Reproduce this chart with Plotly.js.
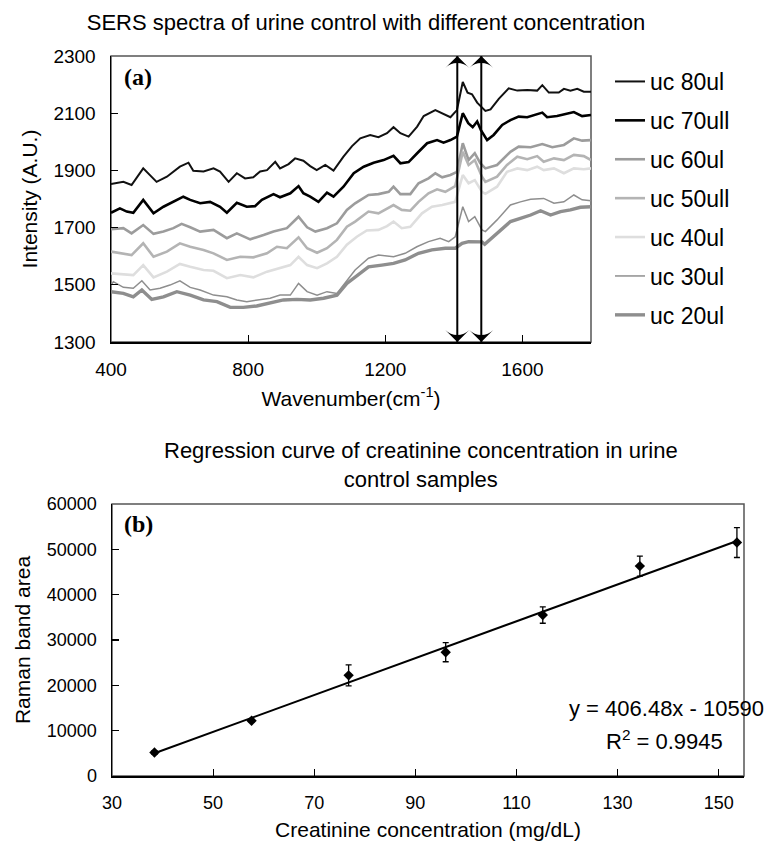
<!DOCTYPE html>
<html>
<head>
<meta charset="utf-8">
<script src="https://cdn.plot.ly/plotly-3.0.1.min.js"></script>
<style>html,body{margin:0;padding:0;background:#fff;}#chart{width:768px;height:846px;}</style>
</head>
<body>
<div id="chart"></div>
<script>
// ---------- Panel (a): SERS spectra ----------
const seriesNames = ['uc 80ul', 'uc 70ull', 'uc 60ul', 'uc 50ull', 'uc 40ul', 'uc 30ul', 'uc 20ul'];

const wn80 = [400,436,460,494,533,563,601,626,640,670,699,718,743,767,791,815,835,855,879,893,918,937,961,981,1000,1025,1049,1078,1103,1127,1156,1180,1205,1224,1244,1268,1293,1312,1346,1366,1390,1409,1426,1440,1453,1468,1477,1492,1507,1531,1560,1585,1614,1643,1658,1677,1706,1721,1740,1760,1779,1800];
const int80 = [1852,1860,1849,1907,1860,1878,1913,1927,1899,1896,1907,1896,1860,1890,1872,1876,1896,1901,1930,1907,1922,1942,1934,1915,1901,1919,1899,1948,1985,2012,2024,2016,2030,2051,2030,2018,2053,2090,2111,2100,2086,2111,2209,2172,2166,2137,2125,2108,2113,2150,2187,2179,2181,2179,2198,2172,2172,2185,2179,2185,2175,2175];

const wn70 = [400,426,446,465,494,524,553,582,611,631,660,689,718,738,767,796,820,840,874,893,923,947,961,981,1005,1030,1049,1078,1108,1137,1166,1195,1224,1244,1268,1293,1322,1351,1370,1390,1409,1426,1442,1455,1468,1479,1497,1516,1541,1565,1589,1614,1633,1658,1672,1701,1726,1750,1774,1800];
const int70 = [1752,1767,1756,1752,1797,1750,1773,1790,1808,1797,1785,1790,1773,1752,1787,1773,1775,1797,1817,1806,1820,1845,1820,1808,1790,1822,1808,1843,1890,1913,1927,1936,1951,1925,1929,1960,1995,2006,1997,2006,2018,2100,2065,2051,2071,2041,2006,2024,2059,2076,2088,2086,2094,2102,2086,2090,2097,2104,2090,2094];

const wn60 = [400,436,460,494,524,553,582,606,631,660,699,738,767,806,845,874,913,947,972,996,1030,1059,1088,1112,1151,1180,1210,1224,1244,1273,1297,1326,1346,1366,1390,1409,1426,1443,1461,1477,1492,1526,1565,1589,1624,1658,1687,1721,1750,1774,1800];
const int60 = [1694,1698,1680,1709,1678,1686,1698,1713,1701,1686,1692,1663,1680,1659,1674,1686,1698,1738,1701,1686,1698,1715,1762,1785,1814,1817,1825,1843,1817,1817,1855,1872,1890,1876,1884,1895,1995,1936,1960,1925,1907,1919,1965,1983,1981,1992,1981,1989,2012,2004,2006];

const wn50 = [400,436,460,494,524,563,601,631,670,699,738,777,815,855,884,913,947,972,1001,1030,1059,1088,1112,1151,1180,1224,1248,1273,1297,1326,1351,1375,1404,1426,1443,1461,1482,1492,1526,1555,1585,1614,1643,1662,1692,1721,1750,1779,1800];
const int50 = [1616,1610,1604,1645,1598,1616,1645,1633,1622,1610,1587,1598,1596,1610,1633,1628,1666,1628,1612,1628,1657,1703,1721,1756,1750,1779,1762,1759,1790,1820,1834,1825,1845,1965,1919,1936,1878,1860,1878,1919,1948,1939,1950,1930,1942,1936,1954,1950,1936];

const wn40 = [400,436,465,494,524,563,601,631,670,699,738,777,815,855,893,923,947,972,1001,1030,1059,1088,1117,1146,1180,1205,1224,1248,1273,1307,1336,1366,1404,1426,1443,1461,1482,1492,1526,1555,1585,1614,1643,1662,1692,1721,1750,1779,1800];
const int40 = [1540,1538,1534,1569,1526,1546,1573,1563,1552,1549,1523,1534,1526,1546,1558,1569,1598,1569,1558,1575,1598,1640,1668,1690,1692,1705,1721,1698,1703,1750,1773,1779,1790,1884,1855,1866,1825,1818,1843,1895,1907,1901,1913,1901,1907,1890,1907,1904,1907];

const wn30 = [400,407,436,465,490,514,543,572,601,631,660,699,738,767,796,835,864,893,923,947,972,1001,1030,1059,1088,1112,1151,1180,1224,1258,1292,1326,1360,1385,1404,1426,1443,1461,1482,1492,1526,1565,1594,1624,1662,1692,1721,1750,1774,1800];
const int30 = [1499,1511,1491,1488,1514,1482,1488,1499,1514,1491,1482,1464,1458,1447,1441,1447,1453,1464,1464,1505,1476,1464,1476,1470,1517,1552,1593,1604,1598,1610,1633,1651,1663,1651,1668,1773,1721,1738,1692,1686,1727,1779,1790,1799,1802,1785,1790,1814,1797,1794];

const wn20 = [400,436,465,490,519,553,592,631,670,709,748,786,825,864,903,942,981,1020,1059,1088,1112,1151,1190,1224,1258,1297,1336,1375,1404,1424,1443,1463,1482,1490,1526,1565,1594,1624,1653,1682,1711,1740,1769,1800];
const int20 = [1476,1470,1458,1482,1449,1458,1476,1464,1447,1441,1421,1421,1426,1435,1447,1449,1447,1453,1464,1505,1528,1563,1569,1575,1587,1610,1622,1628,1628,1645,1651,1651,1650,1642,1680,1721,1732,1744,1759,1744,1756,1762,1771,1773];

const bandPositions = [1410, 1480];        // marked Raman bands (double arrows)
const arrowSpan = [1300, 2300];             // arrows run across the full intensity range
const spectraTicksX = [400, 800, 1200, 1600];

// ---------- Panel (b): regression ----------
const concentration = [38.4, 57.6, 76.8, 96.0, 115.2, 134.4, 153.6];
const bandArea      = [5200, 12200, 22200, 27300, 35500, 46300, 51500];
const bandAreaErr   = [400, 300, 2300, 2100, 1800, 2200, 3300];
const fitX = [38.4, 153.6];
const fitY = [5020, 51850];
const regressionTicksX = [30, 50, 70, 90, 110, 130, 150];

const FONT = 'Liberation Sans, Arial, Helvetica, sans-serif';

const styles = [
  {color: '#111111', width: 2},
  {color: '#000000', width: 2.6},
  {color: '#9c9c9c', width: 2.6},
  {color: '#b4b4b4', width: 2.6},
  {color: '#dedede', width: 2.6},
  {color: '#8e8e8e', width: 1.5},
  {color: '#8e8e8e', width: 3.4}
];
const xs = [wn80, wn70, wn60, wn50, wn40, wn30, wn20];
const ys = [int80, int70, int60, int50, int40, int30, int20];

const traces = [];
for (let i = 0; i < seriesNames.length; i++) {
  traces.push({
    type: 'scatter', mode: 'lines', name: seriesNames[i],
    x: xs[i], y: ys[i], xaxis: 'x', yaxis: 'y',
    legendgroup: 'g' + i,
    line: {color: styles[i].color, width: styles[i].width},
    hoverinfo: 'skip'
  });
}
bandPositions.forEach(b => {
  traces.push({
    type: 'scatter', mode: 'lines+markers', x: [b, b], y: arrowSpan, xaxis: 'x', yaxis: 'y',
    line: {color: '#000', width: 2},
    marker: {symbol: 'arrow-wide', size: 17, color: '#000', angle: [180, 0], line: {width: 0}},
    showlegend: false, hoverinfo: 'skip', cliponaxis: false
  });
});
traces.push({
  type: 'scatter', mode: 'lines', x: fitX, y: fitY, xaxis: 'x2', yaxis: 'y2',
  line: {color: '#000', width: 2}, showlegend: false, hoverinfo: 'skip'
});
traces.push({
  type: 'scatter', mode: 'markers', x: concentration, y: bandArea, xaxis: 'x2', yaxis: 'y2',
  marker: {symbol: 'diamond', size: 8, color: '#000'},
  error_y: {type: 'data', array: bandAreaErr, visible: true, color: '#000', thickness: 1.3, width: 3},
  showlegend: false, hoverinfo: 'skip'
});

const W = 768, H = 846;
const px = v => v / W, py = v => 1 - v / H;

const axisCommon = {
  showline: true, linecolor: '#000', linewidth: 1.5, ticks: 'inside', ticklen: 7,
  tickcolor: '#000', tickwidth: 1.2, showgrid: false, zeroline: false,
  tickfont: {family: FONT, size: 19, color: '#000'}, exponentformat: 'none', tickformat: 'd',
  separatethousands: false, ticklabelstandoff: 10, fixedrange: true
};

const annotations = [
  {x: px(122), y: py(77), xref: 'paper', yref: 'paper', xanchor: 'left', yanchor: 'middle',
   text: '<b>(a)</b>', showarrow: false, font: {family: 'Liberation Serif, Times New Roman, serif', size: 24, color: '#000'}},
  {x: px(122), y: py(524), xref: 'paper', yref: 'paper', xanchor: 'left', yanchor: 'middle',
   text: '<b>(b)</b>', showarrow: false, font: {family: 'Liberation Serif, Times New Roman, serif', size: 24, color: '#000'}},
  {x: px(421), y: py(465), xref: 'paper', yref: 'paper', xanchor: 'center', yanchor: 'middle',
   text: 'Regression curve of creatinine concentration in urine<br>control samples', showarrow: false,
   font: {family: FONT, size: 22, color: '#000'}},
  {x: px(666), y: py(708), xref: 'paper', yref: 'paper', xanchor: 'center', yanchor: 'middle',
   text: 'y = 406.48x - 10590', showarrow: false, font: {family: FONT, size: 22, color: '#000'}},
  {x: px(664), y: py(740), xref: 'paper', yref: 'paper', xanchor: 'center', yanchor: 'middle',
   text: 'R<sup>2</sup> = 0.9945', showarrow: false, font: {family: FONT, size: 22, color: '#000'}}
];

const shapes = [
  {type: 'rect', xref: 'x domain', yref: 'y domain', x0: 0, x1: 1, y0: 0, y1: 1, line: {color: '#555', width: 1.5}, layer: 'below'},
  {type: 'rect', xref: 'x2 domain', yref: 'y2 domain', x0: 0, x1: 1, y0: 0, y1: 1, line: {color: '#555', width: 1.5}, layer: 'below'}
];

const layout = {
  width: W, height: H, margin: {l: 0, r: 0, t: 0, b: 0},
  paper_bgcolor: '#fff', plot_bgcolor: 'rgba(0,0,0,0)',
  font: {family: FONT, size: 18, color: '#000'},
  title: {text: 'SERS spectra of urine control with different concentration',
          x: px(366), xref: 'paper', xanchor: 'center', y: py(22), yref: 'container', yanchor: 'middle',
          font: {family: FONT, size: 22, color: '#000'}},
  xaxis: Object.assign({}, axisCommon, {
    domain: [px(111), px(591)], anchor: 'y', range: [400, 1800], tickvals: spectraTicksX,
    title: {text: 'Wavenumber(cm<sup>-1</sup>)', font: {family: FONT, size: 21, color: '#000'}, standoff: 12}
  }),
  yaxis: Object.assign({}, axisCommon, {
    domain: [py(342), py(56)], anchor: 'x', range: [1300, 2300], dtick: 200, tick0: 1300,
    title: {text: 'Intensity (A.U.)', font: {family: FONT, size: 21, color: '#000'}, standoff: 10}
  }),
  xaxis2: Object.assign({}, axisCommon, {
    domain: [px(112), px(744)], anchor: 'y2', range: [30, 155], tickvals: regressionTicksX,
    tickfont: {family: FONT, size: 18, color: '#000'},
    title: {text: 'Creatinine concentration (mg/dL)', font: {family: FONT, size: 21, color: '#000'}, standoff: 10}
  }),
  yaxis2: Object.assign({}, axisCommon, {
    domain: [py(776), py(504)], anchor: 'x2', range: [0, 60000], dtick: 10000, tick0: 0,
    tickfont: {family: FONT, size: 18, color: '#000'},
    title: {text: 'Raman band area', font: {family: FONT, size: 21, color: '#000'}, standoff: 10}
  }),
  showlegend: true,
  legend: {x: px(610), xanchor: 'left', y: py(60), yanchor: 'top', bgcolor: 'rgba(0,0,0,0)',
           font: {family: FONT, size: 23, color: '#000'}, tracegroupgap: 6, traceorder: 'grouped'},
  annotations: annotations,
  shapes: shapes
};

Plotly.newPlot('chart', traces, layout, {staticPlot: true, displayModeBar: false});
</script>
</body>
</html>
